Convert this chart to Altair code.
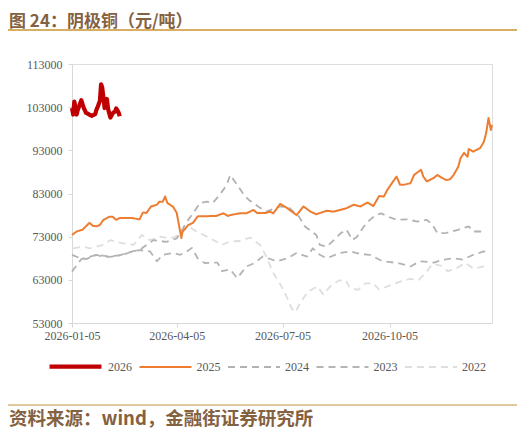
import altair as alt
import pandas as pd

# ---------------- data (day offsets from 2026-01-05, values in 元/吨) ----------------
years = ["2026", "2025", "2024", "2023", "2022"]

d2026 = [0, 1, 2, 4, 5, 8, 10, 12, 17, 20, 21, 22, 24, 25, 26, 28, 30, 31, 33, 35, 37, 38, 40, 41]
v2026 = [102800, 101300, 104300, 101300, 102400, 104600, 102900, 101700, 101000, 101400, 102400, 103000,
         104500, 108300, 107500, 102800, 104900, 102600, 100600, 101600, 102000, 102700, 101800, 100900]

d2025 = [0, 4, 9, 12, 15, 18, 21, 24, 27, 30, 32, 35, 38, 41, 52, 58, 61, 64, 68, 73,
         75, 78, 80, 82, 87, 90, 94, 95, 100, 104, 108, 124, 130, 134, 136, 144, 150, 156, 159, 167,
         170, 173, 179, 185, 193, 199, 205, 210, 219, 225, 236, 242, 248, 254, 259, 264, 268, 271, 276, 279,
         282, 285, 291, 294, 298, 300, 302, 305, 311, 314, 318, 322, 325, 328, 332, 334, 337, 340, 341, 345,
         351, 354, 356, 358, 360, 361]
v2025 = [73400, 74200, 74600, 75400, 76200, 75500, 75400, 75700, 76900, 77300,
         77600, 77600, 76900, 77300, 77300, 77000, 78600, 78500, 80000, 80400,
         81100, 81100, 82300, 80800, 79900, 78500, 72700, 74200, 75700, 76200,
         77700, 77800, 78400, 77800, 78000, 78400, 78400, 79200, 78500, 78500,
         78800, 78400, 80600, 79600, 78000, 80000, 78800, 78200, 79000, 78800,
         79600, 80400, 80000, 80900, 80100, 82400, 82300, 83800, 85800, 86900,
         85000, 85000, 85400, 87300, 88100, 88500, 86900, 85800, 86600, 87300,
         86600, 86100, 86300, 87300, 89200, 91200, 92400, 91500, 93300, 92700,
         93600, 95000, 97000, 100500, 97700, 98900]

d2024 = [0, 7, 12, 21, 27, 38, 47, 52, 58, 70, 81, 90, 94, 98, 104, 110, 116, 121, 127, 133,
         136, 142, 147, 152, 156, 160, 167, 175, 179, 187, 195, 200, 206, 210, 213, 219, 225, 231, 236, 241,
         245, 251, 256, 261, 266, 271, 279, 288, 297, 305, 310, 314, 322, 332, 341, 345, 355]
v2024 = [68800, 68000, 67800, 68800, 68300, 68400, 69200, 69600, 69900, 72200,
         71800, 72600, 74200, 76200, 78400, 80800, 81100, 80800, 82700, 85000,
         87300, 85000, 83000, 81500, 80800, 80000, 78800, 79600, 80000, 79600,
         77700, 75400, 74200, 73400, 71100, 70700, 72200, 73800, 74600, 72200,
         73000, 75400, 76900, 78000, 78400, 77700, 76900, 77000, 76500, 76900,
         75700, 73800, 73900, 74600, 75400, 74200, 74200]

d2023 = [0, 8, 15, 21, 32, 44, 52, 58, 67, 73, 78, 87, 93, 99, 103, 108, 114, 125, 129, 136,
         142, 150, 157, 164, 176, 185, 193, 202, 207, 213, 219, 230, 239, 248, 256, 267, 280, 291, 299, 311,
         318, 328, 336, 345, 354, 357]
v2023 = [64900, 67800, 68300, 68800, 68400, 68800, 69600, 69900, 69600, 67300,
         68800, 69200, 68800, 69600, 70400, 68000, 66900, 67000, 65000, 65400,
         63400, 66100, 66900, 68400, 67300, 68000, 69200, 68400, 70300, 68800,
         68000, 69200, 69600, 69000, 68800, 67300, 66900, 66100, 67300, 67000,
         67600, 68000, 67700, 68800, 69600, 69300]

d2022 = [1, 10, 15, 27, 33, 41, 53, 60, 67, 76, 84, 93, 100, 107, 119, 129, 136, 144, 153, 162,
         167, 173, 179, 185, 189, 192, 196, 203, 211, 216, 222, 229, 235, 239, 246, 252, 259, 264, 274, 282,
         291, 298, 304, 310, 317, 323, 330, 338, 345, 354, 357]
v2022 = [70300, 70700, 70300, 71100, 72200, 71600, 71100, 73400, 72200, 73000,
         72600, 73400, 75400, 74200, 72600, 71100, 71900, 72000, 72800, 71000,
         68400, 64600, 62000, 58800, 56300, 55500, 57600, 60300, 61500, 59600,
         61500, 62800, 63000, 61100, 60700, 62200, 62200, 60700, 61800, 62600,
         63200, 63000, 64600, 66700, 66300, 65000, 65600, 66900, 65600, 66100,
         66700]

y_ticks = [53000, 63000, 73000, 83000, 93000, 103000, 113000]
x_tick_dates = [(2026, 1, 5), (2026, 4, 5), (2026, 7, 5), (2026, 10, 5)]

title_text = "图 24：阴极铜（元/吨）"
source_text = "资料来源：wind，金融街证券研究所"

# ---------------- table ----------------
series = {"2026": (d2026, v2026), "2025": (d2025, v2025), "2024": (d2024, v2024),
          "2023": (d2023, v2023), "2022": (d2022, v2022)}
base_day = pd.Timestamp("2026-01-05")
rows = []
for yr, (ds, vs) in series.items():
    for d, v in zip(ds, vs):
        rows.append({"date": (base_day + pd.Timedelta(days=d)).strftime("%Y/%m/%d"),
                     "value": v, "year": yr})
df = pd.DataFrame(rows)

colors = ["#C00000", "#ED7D31", "#B2B2B2", "#B4B4B4", "#DEDEDE"]
dashes = [[1, 0], [1, 0], [7, 5], [7, 5], [7, 5]]
widths = [4.2, 2, 1.8, 1.8, 1.8]

serif = "Liberation Serif"
cjk = "Noto Sans CJK SC"

x_enc = alt.X("date:T",
              scale=alt.Scale(domain=[alt.DateTime(year=2026, month=1, date=5),
                                      alt.DateTime(year=2027, month=1, date=1)]),
              axis=alt.Axis(values=[alt.DateTime(year=a, month=b, date=c) for a, b, c in x_tick_dates],
                            format="%Y-%m-%d", title=None, grid=False, labelFlush=False,
                            labelFont=serif, labelFontSize=12, labelColor="#595959",
                            domainColor="#D9D9D9", tickColor="#D9D9D9", tickSize=4,
                            labelPadding=3))
y_enc = alt.Y("value:Q",
              scale=alt.Scale(domain=[53000, 113000], nice=False, zero=False),
              axis=alt.Axis(values=y_ticks, format="d", title=None, grid=False, labelFlush=False,
                            labelFont=serif, labelFontSize=12, labelColor="#595959",
                            domainColor="#D9D9D9", tickColor="#D9D9D9", tickSize=4,
                            labelPadding=6))

color_enc = alt.Color("year:N", scale=alt.Scale(domain=years, range=colors),
                      legend=alt.Legend(title=None, orient="none", direction="horizontal",
                                        legendX=-25, legendY=274,
                                        symbolType="stroke", symbolSize=2700,
                                        labelFont=serif, labelFontSize=12, labelColor="#595959",
                                        labelOffset=4, columnPadding=3.5, symbolOpacity=1))
dash_enc = alt.StrokeDash("year:N", scale=alt.Scale(domain=years, range=dashes))
width_enc = alt.StrokeWidth("year:N", scale=alt.Scale(type="ordinal", domain=years, range=widths))

draw_order = ["2022", "2023", "2024", "2025", "2026"]
layers = []
for yr in draw_order:
    layers.append(
        alt.Chart(df).transform_filter(alt.datum.year == yr)
        .mark_line(interpolate="linear", strokeJoin="round", strokeCap="butt")
        .encode(x=x_enc, y=y_enc, color=color_enc, strokeDash=dash_enc, strokeWidth=width_enc)
    )

deco_title = alt.Chart(pd.DataFrame({"t": [title_text]})).mark_text(
    align="left", baseline="middle", font=cjk, fontSize=17, fontWeight="bold", color="#84613F"
).encode(text="t:N", x=alt.value(-63), y=alt.value(-42))

deco_source = alt.Chart(pd.DataFrame({"t": [source_text]})).mark_text(
    align="left", baseline="middle", font=cjk, fontSize=18.5, fontWeight="bold", color="#84613F"
).encode(text="t:N", x=alt.value(-63), y=alt.value(355))

rule_top = alt.Chart(pd.DataFrame({"a": [0]})).mark_rule(color="#C99431", strokeWidth=1.3).encode(
    x=alt.value(-64), x2=alt.value(445), y=alt.value(-34))
rule_bot = alt.Chart(pd.DataFrame({"a": [0]})).mark_rule(color="#D9B77C", strokeWidth=1.5).encode(
    x=alt.value(-64), x2=alt.value(445), y=alt.value(341))

chart = alt.layer(*layers, deco_title, deco_source, rule_top, rule_bot).properties(
    width=420, height=259,
    autosize=alt.AutoSizeParams(type="none"),
    padding={"left": 64, "top": 56, "right": 26, "bottom": 107},
).configure_view(stroke=None).configure(background="white")

chart.save("out.html", embed_options={"renderer": "svg", "actions": False})
